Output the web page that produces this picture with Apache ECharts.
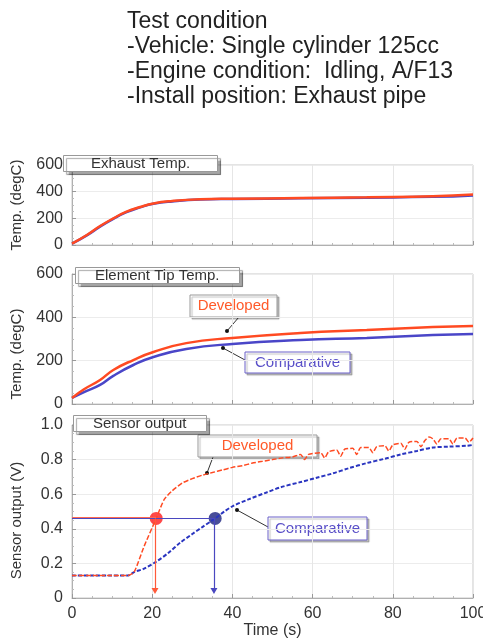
<!DOCTYPE html>
<html>
<head>
<meta charset="utf-8">
<script src="https://cdn.jsdelivr.net/npm/echarts@6/dist/echarts.min.js"></script>
<style>
  html, body { margin: 0; padding: 0; background: #fff; }
  #chart { width: 483px; height: 642px; }
</style>
</head>
<body>
<div id="chart"></div>
<script>
// exhaust temperature (degC)
var exhaustTime = [0, 3.7, 7, 10.3, 13.6, 17, 20.3, 25, 32, 40, 57, 73.5, 90, 100];
var exhaustDeveloped = [10, 75, 142, 200, 250, 285, 312, 330, 343, 347, 352, 358, 365, 378];
var exhaustComparative = [10, 72, 138, 196, 246, 282, 309, 327, 341, 345, 350, 355, 361, 372];

// element tip temperature (degC)
var tipTime = [0, 3, 7, 10.3, 15.3, 20.3, 28.5, 40, 57, 73.5, 90, 100];
var tipDeveloped = [28, 68, 111, 157, 203, 240, 281, 305, 328, 342, 355, 360];
var tipComparative = [28, 55, 88, 130, 180, 217, 254, 277, 295, 305, 318, 323];

// sensor output (V)
var devTime = [0, 5, 10, 14, 15.5, 18, 21, 23, 25, 27.5, 30, 32.5, 35, 37.5, 40, 42.5, 45, 47.5, 50, 52.5, 55, 57, 58, 59, 62, 63, 64, 66, 67, 68, 70, 71, 72, 74, 75, 76, 78, 79, 80, 82, 83, 84, 86, 87, 88, 89, 90, 91, 92, 94, 95, 96, 98, 99, 100];
var devOutput = [0.13, 0.13, 0.13, 0.13, 0.15, 0.3, 0.46, 0.57, 0.62, 0.665, 0.69, 0.71, 0.725, 0.74, 0.755, 0.765, 0.78, 0.79, 0.8, 0.81, 0.815, 0.83, 0.8, 0.83, 0.84, 0.81, 0.845, 0.855, 0.82, 0.86, 0.865, 0.83, 0.87, 0.87, 0.84, 0.875, 0.88, 0.85, 0.885, 0.895, 0.86, 0.9, 0.905, 0.875, 0.91, 0.93, 0.92, 0.89, 0.92, 0.92, 0.89, 0.925, 0.925, 0.9, 0.925];
var cmpTime = [0, 5, 10, 14, 15.5, 18, 21, 24, 27, 30, 32.5, 35.7, 38, 40, 44, 48.5, 52, 57, 61, 65, 69, 73.5, 78, 82, 86, 90, 94, 98.5, 100];
var cmpOutput = [0.13, 0.13, 0.13, 0.13, 0.15, 0.17, 0.21, 0.26, 0.32, 0.37, 0.41, 0.46, 0.5, 0.53, 0.57, 0.61, 0.64, 0.67, 0.695, 0.72, 0.75, 0.78, 0.805, 0.83, 0.85, 0.87, 0.875, 0.88, 0.885];

// response point: level and crossing times
var responseLevel = 0.46;
var devCross = 21;
var cmpCross = 35.7;
var arrowEnd = 0.04;

var xTicks = [0, 20, 40, 60, 80, 100];

function pairs(xs, ys) {
  return xs.map(function (x, i) { return [x, ys[i]]; });
}

var font = "'Liberation Sans', Arial, sans-serif";
var RED = "#ff4a22";
var BLUE = "#4a46c8";

var myChart = echarts.init(document.getElementById("chart"));

function xAxisOf(idx, showLabels) {
  return {
    type: "value",
    gridIndex: idx,
    min: xTicks[0],
    max: xTicks[xTicks.length - 1],
    interval: 20,
    name: showLabels ? "Time (s)" : "",
    nameLocation: "middle",
    nameGap: 24,
    nameTextStyle: { fontSize: 16, color: "#333", fontFamily: font },
    axisLine: { lineStyle: { color: "#b0b0b0" } },
    axisTick: { inside: true, length: 4, lineStyle: { color: "#999" } },
    minorTick: { show: true, splitNumber: 4, length: 2, lineStyle: { color: "#bbb" } },
    axisLabel: { show: showLabels, fontSize: 16, color: "#333", fontFamily: font, margin: 8 },
    splitLine: { show: true, lineStyle: { color: "#e6e6e6" } }
  };
}

function yAxisOf(idx, name, max, interval, pad, fmt) {
  return {
    type: "value",
    gridIndex: idx,
    min: 0,
    max: max,
    interval: interval,
    name: name,
    nameLocation: "middle",
    nameGap: 48,
    nameTextStyle: { fontSize: 15, color: "#333", fontFamily: font, padding: pad },
    axisLine: { show: true, lineStyle: { color: "#b0b0b0" } },
    axisTick: { show: true, inside: true, length: 4, lineStyle: { color: "#999" } },
    minorTick: { show: true, splitNumber: 4, length: 2, lineStyle: { color: "#bbb" } },
    axisLabel: { fontSize: 16, color: "#333", fontFamily: font, margin: 9, formatter: fmt },
    splitLine: { show: true, lineStyle: { color: "#ececec" } }
  };
}

function boxTitle(text, left, top, padH) {
  return {
    text: text,
    left: left,
    top: top,
    padding: [1, padH, 1, padH],
    backgroundColor: "#fff",
    borderColor: "#999",
    borderWidth: 1,
    shadowColor: "rgba(0,0,0,0.35)",
    shadowBlur: 1,
    shadowOffsetX: 3,
    shadowOffsetY: 3,
    textStyle: { fontSize: 15, fontWeight: "normal", color: "#333", fontFamily: font }
  };
}

function note(text, x, y, w, h, color, border, from, to) {
  return {
    type: "group",
    children: [
      {
        type: "line",
        shape: { x1: from[0], y1: from[1], x2: to[0], y2: to[1] },
        style: { stroke: "#333", lineWidth: 1 }
      },
      {
        type: "circle",
        shape: { cx: to[0], cy: to[1], r: 2 },
        style: { fill: "#111" }
      },
      {
        type: "rect",
        shape: { x: x, y: y, width: w, height: h },
        style: { fill: "#fff", stroke: border, lineWidth: 1, shadowColor: "rgba(0,0,0,0.25)", shadowBlur: 1, shadowOffsetX: 2, shadowOffsetY: 2 }
      },
      {
        type: "text",
        x: x + w / 2,
        y: y + h / 2,
        style: { text: text, fill: color, fontSize: 15, fontFamily: font, align: "center", verticalAlign: "middle" }
      }
    ]
  };
}

var gridBase = { left: 72, right: 10, show: true, borderColor: "#c8c8c8", outerBoundsMode: "none", containLabel: false };

var option = {
  animation: false,
  title: [
    {
      text: "Test condition\n-Vehicle: Single cylinder 125cc\n-Engine condition:  Idling, A/F13\n-Install position: Exhaust pipe",
      left: 127,
      top: 9,
      padding: 0,
      textStyle: { fontSize: 23, fontWeight: "normal", color: "#222", lineHeight: 25, fontFamily: font }
    },
    boxTitle("Exhaust Temp.", 63, 155, 28),
    boxTitle("Element Tip Temp.", 75, 267, 20),
    boxTitle("Sensor output", 73, 415, 20)
  ],
  grid: [
    Object.assign({ top: 165, height: 80 }, gridBase),
    Object.assign({ top: 274, height: 130 }, gridBase),
    Object.assign({ top: 425, height: 173 }, gridBase)
  ],
  xAxis: [xAxisOf(0, false), xAxisOf(1, false), xAxisOf(2, true)],
  yAxis: [
    yAxisOf(0, "Temp. (degC)", 600, 200, [0, 0, 0, 0]),
    yAxisOf(1, "Temp. (degC)", 600, 200, [0, 30, 0, 0]),
    yAxisOf(2, "Sensor output (V)", 1, 0.2, [0, 18, 0, 0], function (v) { return v === 0 ? "0" : v.toFixed(1); })
  ],
  series: [
    {
      name: "Comparative", type: "line", xAxisIndex: 0, yAxisIndex: 0, smooth: true, symbol: "none",
      lineStyle: { color: BLUE, width: 2.5 }, data: pairs(exhaustTime, exhaustComparative)
    },
    {
      name: "Developed", type: "line", xAxisIndex: 0, yAxisIndex: 0, smooth: true, symbol: "none",
      lineStyle: { color: RED, width: 2.5 }, data: pairs(exhaustTime, exhaustDeveloped)
    },
    {
      name: "Comparative", type: "line", xAxisIndex: 1, yAxisIndex: 1, smooth: true, symbol: "none",
      lineStyle: { color: BLUE, width: 2.5 }, data: pairs(tipTime, tipComparative)
    },
    {
      name: "Developed", type: "line", xAxisIndex: 1, yAxisIndex: 1, smooth: true, symbol: "none",
      lineStyle: { color: RED, width: 2.5 }, data: pairs(tipTime, tipDeveloped)
    },
    {
      name: "Comparative", type: "line", xAxisIndex: 2, yAxisIndex: 2, smooth: 0.3, symbol: "none",
      lineStyle: { color: "#2a35c0", width: 2, type: [4, 2] }, data: pairs(cmpTime, cmpOutput),
      markLine: {
        silent: true, symbol: ["none", "none"], label: { show: false },
        lineStyle: { color: "#4a48c0", width: 1.2, type: "solid" },
        data: [[{ coord: [0, responseLevel] }, { coord: [cmpCross, responseLevel] }]]
      }
    },
    {
      name: "Developed", type: "line", xAxisIndex: 2, yAxisIndex: 2, smooth: 0.2, symbol: "none",
      lineStyle: { color: RED, width: 1.5, type: [5, 2] }, data: pairs(devTime, devOutput),
      markLine: {
        silent: true, symbol: ["none", "none"], label: { show: false },
        lineStyle: { color: "#ff6a50", width: 1, type: "solid" },
        data: [[{ coord: [0, responseLevel + 0.004] }, { coord: [devCross, responseLevel + 0.004] }]]
      }
    },
    {
      type: "line", xAxisIndex: 2, yAxisIndex: 2, symbol: "none", lineStyle: { width: 0 }, data: [],
      markLine: {
        silent: true, symbol: ["none", "triangle"], symbolSize: [7, 6], label: { show: false },
        data: [
          [{ coord: [devCross - 0.3, responseLevel], lineStyle: { color: "#ff5a3a", width: 1.2, type: "solid" } }, { coord: [devCross - 0.3, arrowEnd] }],
          [{ coord: [cmpCross - 0.3, responseLevel], lineStyle: { color: "#4a48c0", width: 1.2, type: "solid" } }, { coord: [cmpCross - 0.3, arrowEnd] }]
        ]
      }
    },
    {
      type: "scatter", xAxisIndex: 2, yAxisIndex: 2, symbolSize: 13,
      itemStyle: { color: "#ff1a1a" }, data: [[devCross, responseLevel]]
    },
    {
      type: "scatter", xAxisIndex: 2, yAxisIndex: 2, symbolSize: 13,
      itemStyle: { color: "#1a2080" }, data: [[cmpCross, responseLevel]]
    }
  ],
  graphic: [
    note("Developed", 190, 295, 87, 22, "#ff5a2a", "#999", [239, 317], [227, 331]),
    note("Comparative", 245, 352, 105, 21, "#5a50c8", "#6a60c8", [245, 360], [223, 348]),
    note("Developed", 198, 435, 119, 22, "#ff5a2a", "#999", [213, 457], [207, 473]),
    note("Comparative", 268, 517, 99, 23, "#5a50c8", "#6a60c8", [268, 527], [237, 510])
  ]
};

myChart.setOption(option);
</script>
</body>
</html>
